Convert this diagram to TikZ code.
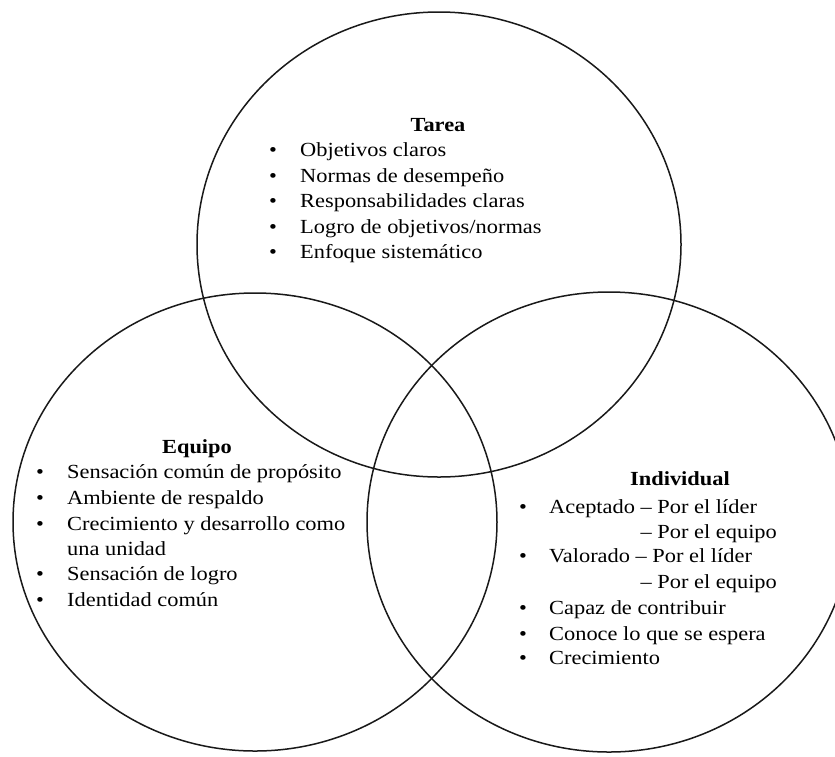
\documentclass[tikz,border=0pt]{standalone}
\usepackage{fontspec}
\setmainfont[FakeStretch=1.12]{Liberation Serif}
\begin{document}
\begin{tikzpicture}[x=1pt,y=-1pt,
  ring/.style={draw=black!90, line width=1.5pt},
  txt/.style={anchor=base west, inner sep=0pt, font=\fontsize{20}{24}\selectfont},
  head/.style={anchor=base, inner sep=0pt, font=\fontsize{20}{24}\selectfont\bfseries},
  bul/.style={anchor=base, inner sep=0pt, font=\fontsize{20}{24}\selectfont}]
\useasboundingbox (0,0) rectangle (835,756);
\clip (0,0) rectangle (835,756);
\fill[white] (0,0) rectangle (835,756);
% circles
\draw[ring] (439,244.5) ellipse [x radius=242, y radius=232.5];
\draw[ring] (255,522) ellipse [x radius=242, y radius=229];
\draw[ring] (609,522) ellipse [x radius=242, y radius=230];
% Tarea
\node[head] (t0) at (438,131) {Tarea};
\node[bul] (tb1) at (273,156) {\textbullet};
\node[txt] (t1) at (300,156) {Objetivos claros};
\node[bul] (tb2) at (273,182) {\textbullet};
\node[txt] (t2) at (300,182) {Normas de desempeño};
\node[bul] (tb3) at (273,207) {\textbullet};
\node[txt] (t3) at (300,207) {Responsabilidades claras};
\node[bul] (tb4) at (273,233) {\textbullet};
\node[txt] (t4) at (300,233) {Logro de objetivos/normas};
\node[bul] (tb5) at (273,258) {\textbullet};
\node[txt] (t5) at (300,258) {Enfoque sistemático};
% Equipo
\node[head] (e0) at (197,453) {Equipo};
\node[bul] (eb1) at (40,478) {\textbullet};
\node[txt] (e1) at (67,478) {Sensación común de propósito};
\node[bul] (eb2) at (40,504) {\textbullet};
\node[txt] (e2) at (67,504) {Ambiente de respaldo};
\node[bul] (eb3) at (40,530) {\textbullet};
\node[txt] (e3) at (67,530) {Crecimiento y desarrollo como};
\node[txt] (e3b) at (67,555) {una unidad};
\node[bul] (eb4) at (40,580) {\textbullet};
\node[txt] (e4) at (67,580) {Sensación de logro};
\node[bul] (eb5) at (40,606) {\textbullet};
\node[txt] (e5) at (67,606) {Identidad común};
% Individual
\node[head] (i0) at (680,485) {Individual};
\node[bul] (ib1) at (523,513) {\textbullet};
\node[txt] (i1) at (549,513) {Aceptado -- Por el líder};
\node[txt] (i1b) at (549,538) {\phantom{Aceptado }-- Por el equipo};
\node[bul] (ib2) at (523,562) {\textbullet};
\node[txt] (i2) at (549,562) {Valorado -- Por el líder};
\node[txt] (i2b) at (549,588) {\phantom{Aceptado }-- Por el equipo};
\node[bul] (ib3) at (523,614) {\textbullet};
\node[txt] (i3) at (549,614) {Capaz de contribuir};
\node[bul] (ib4) at (523,640) {\textbullet};
\node[txt] (i4) at (549,640) {Conoce lo que se espera};
\node[bul] (ib5) at (523,664) {\textbullet};
\node[txt] (i5) at (549,664) {Crecimiento};
\end{tikzpicture}
\end{document}
